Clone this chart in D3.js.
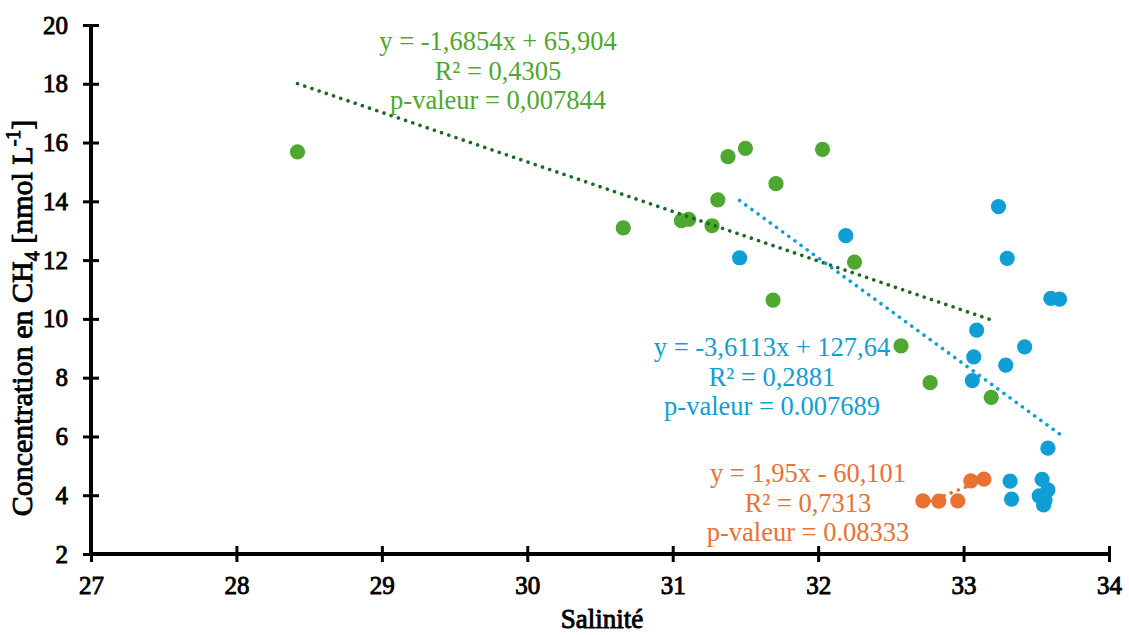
<!DOCTYPE html>
<html>
<head>
<meta charset="utf-8">
<script src="https://d3js.org/d3.v7.min.js"></script>
<style>
  body { margin: 0; background: #fff; }
  svg, svg text { font-family: "Liberation Serif", "Times New Roman", Times, serif; }
</style>
</head>
<body>
<svg width="1129" height="635"></svg>
<script>
// green series
const greenX = [28.42, 30.66, 31.06, 31.11, 31.27, 31.31, 31.38, 31.50, 31.71, 32.03, 32.25, 31.69, 32.57, 32.77, 33.19];
const greenY = [15.68, 13.10, 13.34, 13.39, 13.17, 14.05, 15.52, 15.80, 14.60, 15.77, 11.93, 10.64, 9.08, 7.83, 7.33];
// blue series
const blueX = [31.46, 32.19, 33.24, 33.30, 33.60, 33.66, 33.09, 33.07, 33.29, 33.42, 33.06, 33.58, 33.32, 33.33, 33.54, 33.58, 33.52, 33.56, 33.55];
const blueY = [12.08, 12.83, 13.82, 12.06, 10.70, 10.67, 9.62, 8.71, 8.43, 9.05, 7.90, 5.60, 4.48, 3.87, 4.54, 4.18, 3.98, 3.84, 3.67];
// orange series
const orangeX = [32.72, 32.83, 32.96, 33.05, 33.14];
const orangeY = [3.81, 3.80, 3.81, 4.49, 4.55];

// trend lines [slope, intercept]
const greenFit = [-1.6854, 65.904];
const blueFit = [-3.6113, 127.64];
const orangeFit = [1.95, -60.101];

const greenLabel = ["y = -1,6854x + 65,904", "R² = 0,4305", "p-valeur = 0,007844"];
const blueLabel = ["y = -3,6113x + 127,64", "R² = 0,2881", "p-valeur = 0.007689"];
const orangeLabel = ["y = 1,95x - 60,101", "R² = 0,7313", "p-valeur = 0.08333"];

const xTicks = [27, 28, 29, 30, 31, 32, 33, 34];
const yTicks = [2, 4, 6, 8, 10, 12, 14, 16, 18, 20];

const FONT = "'Liberation Serif', 'Times New Roman', Times, serif";
const svg = d3.select("svg");
const mLeft = 91, mRight = 1109, mTop = 25, mBottom = 554;

const x = d3.scaleLinear().domain([27, 34]).range([mLeft, mRight]);
const y = d3.scaleLinear().domain([2, 20]).range([mBottom, mTop]);

// bold look: regular serif face with a thin outline
function boldish(sel) {
    sel.style("font-family", FONT)
        .style("font-weight", "normal")
        .attr("fill", "#000")
        .attr("stroke", "#000")
        .attr("stroke-width", 0.9)
        .attr("paint-order", "stroke");
}

// axes
const xAxis = svg.append("g")
    .attr("transform", `translate(0,${mBottom})`)
    .call(d3.axisBottom(x).tickValues(xTicks).tickSize(8).tickPadding(14).tickFormat(d3.format("d")));
const yAxis = svg.append("g")
    .attr("transform", `translate(${mLeft},0)`)
    .call(d3.axisLeft(y).tickValues(yTicks).tickSize(8).tickPadding(15).tickFormat(d3.format("d")));

[xAxis, yAxis].forEach(g => {
    g.attr("font-family", FONT);
    g.select(".domain").attr("stroke", "#000").attr("stroke-width", 4);
    g.selectAll(".tick line").attr("stroke", "#000").attr("stroke-width", 3);
    g.selectAll("text").call(boldish).style("font-size", "25px");
});
// ticks cross the axis line
xAxis.selectAll(".tick line").attr("y1", -8).attr("y2", 8);
yAxis.selectAll(".tick line").attr("x1", -8).attr("x2", 8);
xAxis.select(".domain").attr("d", `M${mLeft},0H${mRight}`);
yAxis.select(".domain").attr("d", `M0,${mBottom}V${mTop}`);

// trend lines
function trend(fit, xs, color) {
    const x0 = d3.min(xs), x1 = d3.max(xs);
    svg.append("line")
        .attr("x1", x(x0)).attr("y1", y(fit[0] * x0 + fit[1]))
        .attr("x2", x(x1)).attr("y2", y(fit[0] * x1 + fit[1]))
        .attr("stroke", color)
        .attr("stroke-width", 3.6)
        .attr("stroke-linecap", "round")
        .attr("stroke-dasharray", "0.01 7.6");
}

// points
function points(xs, ys, color) {
    svg.append("g").selectAll("circle")
        .data(xs.map((v, i) => [v, ys[i]]))
        .join("circle")
        .attr("cx", d => x(d[0]))
        .attr("cy", d => y(d[1]))
        .attr("r", 7.6)
        .attr("fill", color);
}

points(greenX, greenY, "#4ea72e");
points(blueX, blueY, "#0f9ed5");
points(orangeX, orangeY, "#e97132");
trend(greenFit, greenX, "#196b24");
trend(blueFit, blueX, "#0f9ed5");
trend(orangeFit, orangeX, "#e97132");

// equation labels
function label(lines, cx, cy, color) {
    svg.append("text")
        .attr("text-anchor", "middle")
        .attr("fill", color)
        .style("font-family", FONT)
        .style("font-size", "26.5px")
        .selectAll("tspan")
        .data(lines)
        .join("tspan")
        .attr("x", cx)
        .attr("y", (d, i) => cy + i * 29.5)
        .text(d => d);
}
label(greenLabel, 498, 50, "#4ea72e");
label(blueLabel, 772, 356, "#0f9ed5");
label(orangeLabel, 808, 482, "#e97132");

// axis titles
svg.append("text")
    .attr("x", 602).attr("y", 628)
    .attr("text-anchor", "middle")
    .call(boldish)
    .style("font-size", "27px")
    .text("Salinité");

const yt = svg.append("text")
    .attr("transform", "translate(32,318) rotate(-90)")
    .attr("text-anchor", "middle")
    .call(boldish)
    .style("font-size", "30px");
yt.append("tspan").text("Concentration en CH");
yt.append("tspan").attr("dy", 7).style("font-size", "20px").text("4");
yt.append("tspan").attr("dy", -7).text(" [nmol L");
yt.append("tspan").attr("dy", -12).style("font-size", "20px").text("-1");
yt.append("tspan").attr("dy", 12).text("]");
</script>
</body>
</html>
